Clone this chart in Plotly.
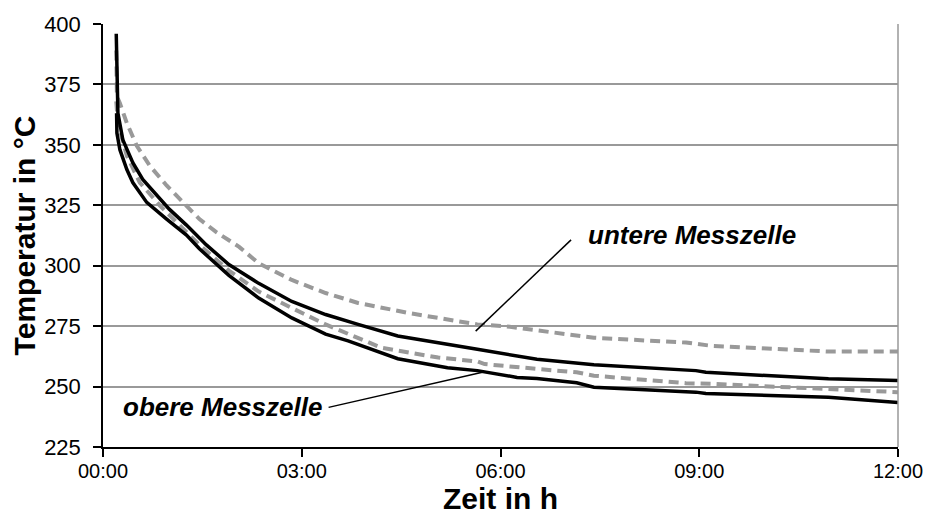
import plotly.graph_objects as go

# Zeit in Stunden und gemessene Temperaturen (°C) der vier Thermoelemente
t_upper_gray = [0.20, 0.21, 0.255, 0.36, 0.51, 0.705, 0.96, 1.2, 1.455, 1.71, 2.055, 2.35, 2.85, 3.36,
                3.85, 4.6, 5.35, 5.65, 6.06, 6.55, 7.41, 8.8, 9.2, 10.95, 12.0]
v_upper_gray = [389, 370, 367.2, 359, 349.6, 341.4, 333.2, 326.2, 319.3, 313.9, 307.8, 301, 294.1, 288.7,
                284.6, 280.5, 277, 275.7, 275, 273.2, 270.2, 268.2, 266.8, 264.5, 264.5]

t_upper_black = [0.20, 0.215, 0.225, 0.3, 0.45, 0.6, 0.81, 1.0, 1.26, 1.56, 1.9, 2.35, 2.85, 3.36,
                 3.85, 4.45, 5.65, 6.25, 6.55, 7.41, 8.95, 9.1, 10.95, 12.0]
v_upper_black = [396, 368, 363.1, 352, 342.6, 335.7, 329.1, 323.4, 316.8, 308.6, 300.5, 292.7, 285.2, 279.8,
                 275.7, 270.9, 265.4, 262.7, 261.3, 259, 256.6, 255.9, 253.2, 252.5]

t_lower_gray = [0.20, 0.225, 0.36, 0.555, 0.855, 1.155, 1.455, 1.9, 2.35, 2.85, 3.36, 4.2, 5.06, 5.65,
                5.76, 6.55, 7.15, 7.41, 8.8, 9.2, 10.95, 12.0]
v_lower_gray = [368, 359, 345.5, 334.4, 325, 316.8, 308.6, 298, 289.3, 282.5, 275.7, 266.1, 262, 260.4,
                259.3, 257.3, 255.9, 254.5, 251.4, 251.1, 249.1, 247.7]

t_lower_black = [0.205, 0.21, 0.255, 0.36, 0.45, 0.66, 0.96, 1.26, 1.455, 1.9, 2.35, 2.85, 3.36, 3.7,
                 4.45, 5.2, 5.65, 6.25, 6.55, 7.15, 7.41, 8.95, 9.1, 10.95, 12.0]
v_lower_black = [363.1, 354.9, 348, 339.8, 334.4, 326.2, 319.3, 312.7, 307, 296, 286.6, 278.4, 271.7, 268.9,
                 261.5, 257.8, 256.6, 253.8, 253.3, 251.6, 249.7, 247.7, 247.1, 245.6, 243.4]

x_tickvals = [0, 3, 6, 9, 12]
x_ticktext = ["00:00", "03:00", "06:00", "09:00", "12:00"]
y_tickvals = [225, 250, 275, 300, 325, 350, 375, 400]

FONT = "Liberation Sans, Arial, sans-serif"
GRAY = "#999999"

fig = go.Figure()

for t, v in [(t_upper_gray, v_upper_gray), (t_lower_gray, v_lower_gray)]:
    fig.add_trace(go.Scatter(x=t, y=v, mode="lines",
                             line=dict(color=GRAY, width=4, dash="10px,6px")))
for t, v in [(t_upper_black, v_upper_black), (t_lower_black, v_lower_black)]:
    fig.add_trace(go.Scatter(x=t, y=v, mode="lines",
                             line=dict(color="black", width=3.5)))

# Beschriftungen mit Zeigerlinien
fig.add_annotation(x=7.29, y=312.7, xref="x", yref="y", text="<b><i>untere Messzelle</i></b>",
                   showarrow=False, xanchor="left", yanchor="middle",
                   font=dict(family=FONT, size=26, color="black"))
fig.add_annotation(x=0.27, y=241.4, xref="x", yref="y", text="<b><i>obere Messzelle</i></b>",
                   showarrow=False, xanchor="left", yanchor="middle",
                   font=dict(family=FONT, size=26, color="black"))
fig.add_shape(type="line", xref="x", yref="y", x0=7.065, y0=310.7, x1=5.625, y1=272.95,
              line=dict(color="black", width=1.5))
fig.add_shape(type="line", xref="x", yref="y", x0=3.405, y0=241.4, x1=5.76, y1=256.1,
              line=dict(color="black", width=1.5))

# rechter Rahmen des Diagramms
fig.add_shape(type="line", xref="paper", yref="paper", x0=1, y0=0, x1=1, y1=1,
              line=dict(color=GRAY, width=1.5))

fig.update_layout(
    width=935, height=524,
    margin=dict(l=103, r=32, t=20, b=77),
    paper_bgcolor="white", plot_bgcolor="white",
    showlegend=False,
    font=dict(family=FONT, color="black"),
)
fig.update_xaxes(
    range=[0, 12], tickvals=x_tickvals, ticktext=x_ticktext,
    showgrid=False, zeroline=False,
    showline=True, linecolor="black", linewidth=1.5,
    ticks="outside", ticklen=8, tickcolor="black", tickwidth=1.5,
    ticklabelstandoff=-3,
    tickfont=dict(family=FONT, size=20, color="black"),
    title=dict(text="<b>Zeit in h</b>", font=dict(family=FONT, size=30, color="black"), standoff=0),
)
fig.update_yaxes(
    range=[225, 400], tickvals=y_tickvals,
    showgrid=True, gridcolor=GRAY, gridwidth=1.5, zeroline=False,
    showline=True, linecolor="black", linewidth=1.5,
    ticks="outside", ticklen=8, tickcolor="black", tickwidth=1.5,
    ticklabelstandoff=8,
    tickfont=dict(family=FONT, size=22, color="black"),
    title=dict(text="<b>Temperatur in °C</b>", font=dict(family=FONT, size=30, color="black"), standoff=0),
)

fig.write_html("out.html")
